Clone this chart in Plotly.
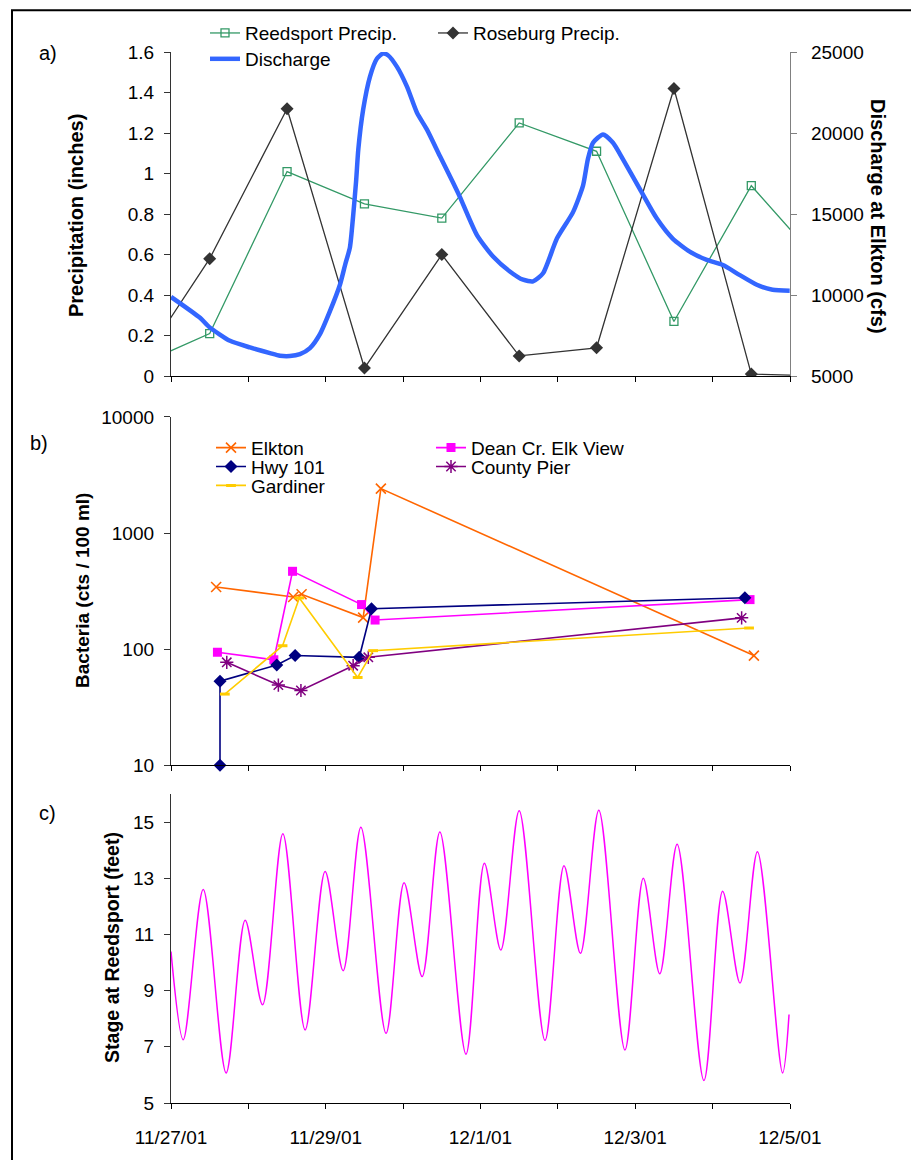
import pandas as pd
import plotly.graph_objects as go

# ---------------- data ----------------
precip_dates = ["2001-11-26 12:00", "2001-11-27 12:00", "2001-11-28 12:00", "2001-11-29 12:00",
                "2001-11-30 12:00", "2001-12-01 12:00", "2001-12-02 12:00", "2001-12-03 12:00",
                "2001-12-04 12:00", "2001-12-05 12:00"]
reedsport_precip = [0.04, 0.21, 1.01, 0.85, 0.78, 1.25, 1.11, 0.27, 0.94, 0.51]
roseburg_precip = [0.00, 0.58, 1.32, 0.04, 0.60, 0.10, 0.14, 1.42, 0.01, 0.00]

start = pd.Timestamp("2001-11-27 00:00")
discharge_hours = [0, 9, 11.8, 18.3, 24.5, 30.7, 33.8, 36.9, 40, 43.1, 46.2, 49.3, 52.4, 54.0,
                   55.5, 56.5, 57.4, 58.1, 59.6, 61.7, 63.9, 65.7, 67.3, 70.1, 73.2, 76.3, 79.4,
                   83.4, 87.4, 89.6, 94.9, 99.9, 105.1, 109.2, 112.3, 115.4, 119.7, 124.7, 127.8,
                   129.3, 130.9, 134.0, 137.1, 140.2, 145.4, 150.7, 155.6, 160.9, 166.2, 171.2,
                   176.3, 181.7, 186.6, 191.9]
discharge_cfs = [9890, 8600, 8040, 7180, 6770, 6420, 6260, 6240, 6360, 6730, 7590, 9010, 10640,
                 11860, 12950, 14900, 17000, 18990, 21440, 23470, 24600, 24900, 24800, 24080,
                 22860, 21250, 20210, 18580, 16980, 16060, 13700, 12380, 11460, 10950, 10850,
                 11350, 13490, 15120, 16750, 18380, 19400, 19910, 19400, 18380, 16550, 14720,
                 13490, 12680, 12170, 11860, 11250, 10640, 10330, 10270]

elkton_t = ["2001-11-27 14:00", "2001-11-28 13:54", "2001-11-28 16:30", "2001-11-29 11:36",
            "2001-11-29 17:06", "2001-12-04 12:48"]
elkton_v = [343, 281, 297, 187, 2415, 88]
dean_t = ["2001-11-27 14:24", "2001-11-28 07:54", "2001-11-28 13:42", "2001-11-29 11:06",
          "2001-11-29 15:18", "2001-12-04 11:36"]
dean_v = [94, 81, 468, 242, 178, 267]
hwy_t = ["2001-11-27 15:12", "2001-11-27 15:12", "2001-11-28 08:48", "2001-11-28 14:30",
         "2001-11-29 10:24", "2001-11-29 14:12", "2001-12-04 10:00"]
hwy_v = [10, 53, 73, 88, 85, 223, 277]
pier_t = ["2001-11-27 17:18", "2001-11-28 09:18", "2001-11-28 16:18", "2001-11-29 08:30",
          "2001-11-29 13:12", "2001-12-04 09:00"]
pier_v = [77, 49, 44, 72, 85, 186]
gard_t = ["2001-11-27 16:42", "2001-11-28 10:36", "2001-11-28 15:48", "2001-11-29 09:54",
          "2001-11-29 14:42", "2001-12-04 11:18"]
gard_v = [41, 107, 276, 57, 97, 152]

stage_hours = [0, 3.8, 10.0, 17.1, 23.0, 28.4, 34.7, 41.6, 47.8, 53.4, 58.9, 66.7, 72.3, 77.9,
               83.4, 91.5, 97.2, 102.3, 108.0, 116.0, 121.9, 127.0, 132.7, 140.8, 146.5, 151.6,
               157.0, 165.3, 171.1, 176.5, 181.9, 189.7, 191.7]
stage_ft = [10.39, 7.25, 12.60, 6.07, 11.51, 8.50, 14.59, 7.60, 13.24, 9.71, 14.82, 7.48, 12.84,
            9.50, 14.65, 6.74, 13.54, 10.45, 15.41, 7.23, 13.45, 10.33, 15.42, 6.89, 13.00, 9.60,
            14.21, 5.80, 12.54, 9.27, 13.95, 6.07, 8.15]

bact_ticks = [10, 100, 1000, 10000]
bact_ticktext = ["10", "100", "1000", "10000"]
stage_ticks = [5, 7, 9, 11, 13, 15]

discharge_t = [start + pd.Timedelta(hours=h) for h in discharge_hours]
stage_t = [start + pd.Timedelta(hours=h) for h in stage_hours]

# ---------------- layout geometry ----------------
W, H = 911, 1160
L, R, T, B = 171, 121, 52, 51
PW, PH = W - L - R, H - T - B
FONT = "Liberation Sans, Arial, sans-serif"


def px(x):
    return (x - L) / PW


def py(y):
    return (H - B - y) / PH


def leg(xp, yp):
    return dict(x=px(xp), y=py(yp), xanchor="left", yanchor="middle",
                bgcolor="rgba(0,0,0,0)", borderwidth=0,
                font=dict(family=FONT, size=19, color="black"))


fig = go.Figure()

# panel a
fig.add_trace(go.Scatter(x=precip_dates, y=reedsport_precip, name="Reedsport Precip.",
                         mode="lines+markers", line=dict(color="#339966", width=1.3),
                         marker=dict(symbol="square-open", size=8, color="#339966",
                                     line=dict(width=1.3)),
                         xaxis="x", yaxis="y", legend="legend"))
fig.add_trace(go.Scatter(x=precip_dates, y=roseburg_precip, name="Roseburg Precip.",
                         mode="lines+markers", line=dict(color="#333333", width=1.3),
                         marker=dict(symbol="diamond", size=10, color="#333333"),
                         xaxis="x", yaxis="y", legend="legend2"))
fig.add_trace(go.Scatter(x=discharge_t, y=discharge_cfs, name="Discharge", mode="lines",
                         line=dict(color="#3366FF", width=4.5, shape="spline", smoothing=0.6),
                         xaxis="x", yaxis="y2", legend="legend3"))

# panel b
bact = [
    ("Elkton", elkton_t, elkton_v, "#FF6600", dict(symbol="x-thin-open", size=10,
                                                   line=dict(width=1.6, color="#FF6600")), "legend4"),
    ("Dean Cr. Elk View", dean_t, dean_v, "#FF00FF", dict(symbol="square", size=9), "legend5"),
    ("Hwy 101", hwy_t, hwy_v, "#000080", dict(symbol="diamond", size=10), "legend6"),
    ("County Pier", pier_t, pier_v, "#800080", dict(symbol="asterisk-open", size=11,
                                                    line=dict(width=1.5, color="#800080")), "legend7"),
    ("Gardiner", gard_t, gard_v, "#FFCC00", dict(symbol="line-ew-open", size=7,
                                                 line=dict(width=3, color="#FFCC00")), "legend8"),
]
for name, t, v, col, mk, lg in bact:
    mk = dict(mk)
    mk["color"] = col
    fig.add_trace(go.Scatter(x=t, y=v, name=name, mode="lines+markers",
                             line=dict(color=col, width=1.6), marker=mk, cliponaxis=False,
                             xaxis="x2", yaxis="y3", legend=lg))

# panel c
fig.add_trace(go.Scatter(x=stage_t, y=stage_ft, mode="lines", showlegend=False,
                         line=dict(color="#FF00FF", width=1.5, shape="spline", smoothing=0.9),
                         xaxis="x3", yaxis="y4"))

tickfont = dict(family=FONT, size=19, color="black")
xcommon = dict(type="date", range=["2001-11-27 00:00", "2001-12-05 00:00"],
               showline=True, linecolor="black", linewidth=1.3, showgrid=False, zeroline=False,
               ticks="outside", ticklen=5, tickcolor="black", tickfont=tickfont,
               tick0="2001-11-27", dtick=86400000)
ycommon = dict(showline=True, linecolor="#333333", linewidth=1.3, showgrid=False,
               zeroline=False, ticks="outside", ticklen=6, tickcolor="#333333",
               tickfont=tickfont, ticklabelstandoff=6)

dom_a = [py(378), 1.0]
dom_b = [py(769.3), py(419)]
dom_c = [0.0, py(798.3)]

fig.update_layout(
    width=W, height=H, margin=dict(l=L, r=R, t=T, b=B),
    paper_bgcolor="white", plot_bgcolor="white",
    font=dict(family=FONT, size=19, color="black"),
    xaxis=dict(xcommon, anchor="y", showticklabels=False),
    xaxis2=dict(xcommon, anchor="y3", showticklabels=False),
    xaxis3=dict(xcommon, anchor="y4", dtick=2 * 86400000, tickformat="%-m/%-d/%y",
                ticklabelstandoff=12,
                minor=dict(dtick=86400000, ticks="outside", ticklen=5, tickcolor="black",
                           showgrid=False)),
    yaxis=dict(ycommon, domain=dom_a, range=[0, 1.6], dtick=0.2, anchor="x"),
    yaxis2=dict(ycommon, range=[5000, 25000], dtick=5000, tickformat="d", overlaying="y",
                side="right", anchor="x", linecolor="#808080", tickcolor="#808080",
                ticklabelstandoff=10),
    yaxis3=dict(ycommon, domain=dom_b, type="log", range=[1, 4], tickvals=bact_ticks,
                ticktext=bact_ticktext, anchor="x2"),
    yaxis4=dict(ycommon, domain=dom_c, range=[5, 16], tickvals=stage_ticks, anchor="x3"),
    legend=leg(205, 33),
    legend2=leg(433, 33),
    legend3=leg(205, 59),
    legend4=leg(211, 450),
    legend5=leg(431, 450),
    legend6=leg(211, 469),
    legend7=leg(431, 469),
    legend8=leg(211, 488),
    showlegend=True,
)

# panel labels and axis titles
ann = [
    dict(text="a)", x=px(48), y=py(53), size=20, bold=False, angle=0),
    dict(text="b)", x=px(39), y=py(445), size=20, bold=False, angle=0),
    dict(text="c)", x=px(47), y=py(817), size=20, bold=False, angle=0),
    dict(text="Precipitation (inches)", x=px(76), y=py(217), size=20, bold=True, angle=-90),
    dict(text="Discharge at Elkton (cfs)", x=px(878), y=py(217), size=20, bold=True, angle=90),
    dict(text="Bacteria (cts / 100 ml)", x=px(83), y=py(593), size=19, bold=True, angle=-90),
    dict(text="Stage at Reedsport (feet)", x=px(112), y=py(953), size=19.5, bold=True, angle=-90),
]
for a in ann:
    fig.add_annotation(text=("<b>%s</b>" % a["text"]) if a["bold"] else a["text"],
                       x=a["x"], y=a["y"], xref="paper", yref="paper", showarrow=False,
                       textangle=a["angle"], xanchor="center", yanchor="middle",
                       font=dict(family=FONT, size=a["size"], color="black"))

# outer frame
fig.add_shape(type="rect", xref="paper", yref="paper", x0=px(12), x1=px(925), y0=py(1175),
              y1=py(10), line=dict(color="black", width=2), fillcolor="rgba(0,0,0,0)",
              layer="above")

fig.write_html("out.html", config={"displayModeBar": False},
               post_script="document.body.style.margin='0';document.body.style.overflow='hidden';")
